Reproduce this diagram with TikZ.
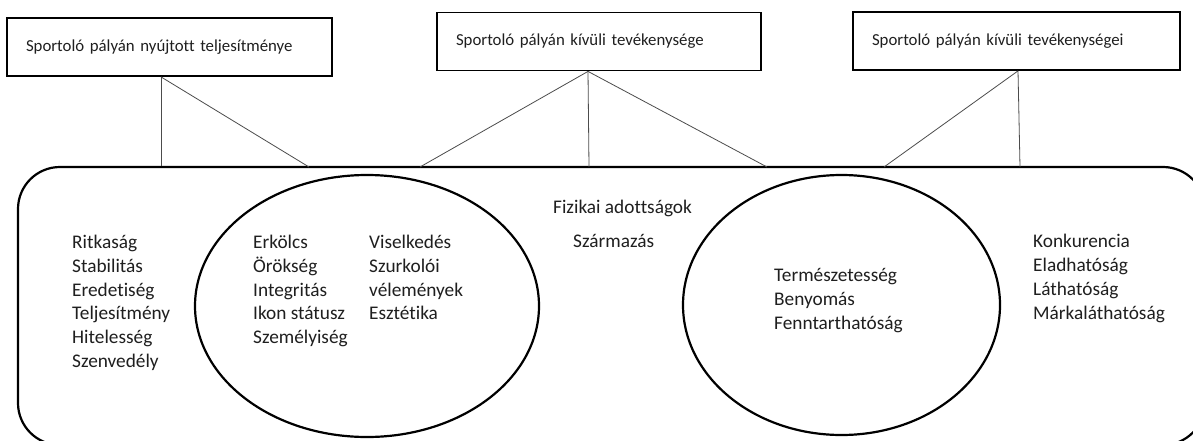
\documentclass[tikz,border=0pt]{standalone}
\usepackage{fontspec}
\setmainfont{Carlito}[Ligatures={NoCommon}]
\usetikzlibrary{shapes.geometric}
\begin{document}
\begin{tikzpicture}[x=1pt,y=-1pt,
  topbox/.style={draw=black, line width=1.8pt, minimum height=58pt, inner xsep=19pt, inner ysep=0pt, align=left, font=\fontsize{16.8}{20}\selectfont, text=black!88},
  frame/.style={draw=black, line width=2.2pt, rounded corners=42pt, inner sep=0pt},
  oval/.style={draw=black, line width=2.2pt, ellipse, inner sep=0pt},
  conn/.style={draw=black!70, line width=0.8pt},
  item/.style={anchor=west, inner sep=0pt, font=\fontsize{19.3}{23.8}\selectfont, text height=12.5pt, text depth=4.6pt, text=black!88}
]
\clip (0,0) rectangle (1193,441);
\fill[white] (0,0) rectangle (1193,441);

% outer rounded frame and ellipses
\node[frame, minimum width=1187pt, minimum height=278pt] (R) at (611.5,306) {};
\node[oval, minimum width=344pt, minimum height=262pt] (E1) at (367,306) {};
\node[oval, minimum width=317pt, minimum height=260pt] (E2) at (841.5,305) {};

% top boxes
\node[topbox, minimum width=325pt, text width=287pt] (b1) at (169.5,47) {Sportoló pályán nyújtott teljesítménye};
\node[topbox, minimum width=324pt, text width=286pt] (b2) at (599,41.5) {Sportoló pályán kívüli tevékenysége};
\node[topbox, minimum width=327pt, text width=289pt] (b3) at (1016.5,41) {Sportoló pályán kívüli tevékenységei};

% connector points
\coordinate (s1) at ([xshift=-8.5pt]b1.south);
\coordinate (s2) at ([xshift=-11pt]b2.south);
\coordinate (s3) at ([xshift=1.5pt]b3.south);
\coordinate (t1) at (s1 |- R.north);
\coordinate (t2) at (309,167);
\coordinate (t3) at (420,167);
\coordinate (t4) at (589,167);
\coordinate (t5) at (767,167);
\coordinate (t6) at (884,167);
\coordinate (t7) at (1020,167);

\draw[conn] (s1) -- (t1);
\draw[conn] (s1) -- (t2);
\draw[conn] (s2) -- (t3);
\draw[conn] (s2) -- (t4);
\draw[conn] (s2) -- (t5);
\draw[conn] (s3) -- (t6);
\draw[conn] (s3) -- (t7);

% text columns
\foreach \t [count=\i] in {Ritkaság,Stabilitás,Eredetiség,Teljesítmény,Hitelesség,Szenvedély}
  \node[item] (a\i) at (72,{244.5+23.8*(\i-1)}) {\t};
\foreach \t [count=\i] in {Erkölcs,Örökség,Integritás,Ikon státusz,Személyiség}
  \node[item] (c\i) at (253,{244.5+23.8*(\i-1)}) {\t};
\foreach \t [count=\i] in {Viselkedés,Szurkolói,vélemények,Esztétika}
  \node[item] (d\i) at (369,{244.5+23.8*(\i-1)}) {\t};
\node[item] (f1) at (553,210) {Fizikai adottságok};
\node[item] (f2) at (573,243.5) {Származás};
\foreach \t [count=\i] in {Természetesség,Benyomás,Fenntarthatóság}
  \node[item] (g\i) at (774,{278+23.8*(\i-1)}) {\t};
\foreach \t [count=\i] in {Konkurencia,Eladhatóság,Láthatóság,Márkaláthatóság}
  \node[item] (h\i) at (1033,{244+23.8*(\i-1)}) {\t};
\end{tikzpicture}
\end{document}
